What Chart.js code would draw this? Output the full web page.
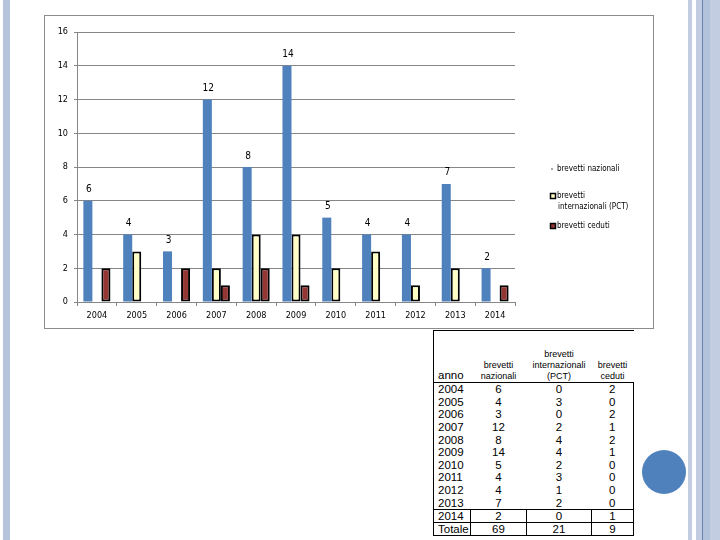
<!DOCTYPE html>
<html><head><meta charset="utf-8">
<script src="https://cdn.jsdelivr.net/npm/chart.js@4.4.1/dist/chart.umd.min.js"></script>
<style>
html,body{margin:0;padding:0;background:#fff;width:720px;height:540px;overflow:hidden;position:relative;font-family:"Liberation Sans",Arial,sans-serif;}
.abs{position:absolute;}
#frame{left:44px;top:15px;width:610px;height:314px;border:1px solid #8c8c8c;box-sizing:border-box;}
#c{position:absolute;left:44px;top:16px;}
#tbl{position:absolute;left:433px;top:330px;border-collapse:collapse;color:#000;table-layout:fixed;}
#tbl td{padding:0;height:12.6px;line-height:12px;text-align:center;font-size:11.5px;white-space:nowrap;}
#tbl tr.head td{height:51px;vertical-align:bottom;font-size:9px;line-height:11px;border-top:1px solid #000;border-bottom:1px solid #000;}
#tbl tr.head td.anno{font-size:11.5px;text-align:left;padding-left:4px;line-height:13px;border-left:1px solid #000;}
#tbl td.first{text-align:left;padding-left:4px;border-left:1px solid #000;}
#tbl td.last{border-right:1px solid #000;}
#tbl tr.grid td{border:1px solid #000;height:11.6px;}
</style></head>
<body>
<div class="abs" style="left:3px;top:0;width:7px;height:540px;background:#b7c5dc;"></div>
<div class="abs" style="left:688px;top:0;width:4px;height:540px;background:#c2cde2;"></div>
<div class="abs" style="left:696px;top:0;width:6px;height:540px;background:#c2cde2;"></div>
<div class="abs" style="left:702px;top:0;width:1px;height:540px;background:#6585b4;"></div>
<div class="abs" style="left:703px;top:0;width:7px;height:540px;background:#b3c2db;"></div>
<div class="abs" style="left:710px;top:0;width:10px;height:540px;background:#c2cde2;"></div>
<div class="abs" style="left:642px;top:450px;width:44px;height:44px;border-radius:50%;background:#4f81bd;"></div>
<div id="frame" class="abs"></div>
<canvas id="c" width="609" height="313"></canvas>
<table id="tbl">
<colgroup><col style="width:37px"><col style="width:56px"><col style="width:65px"><col style="width:42px"></colgroup>
<tbody id="tb"></tbody>
</table>
<script>
const years = ['2004','2005','2006','2007','2008','2009','2010','2011','2012','2013','2014'];
const nazionali = [6,4,3,12,8,14,5,4,4,7,2];
const internazionali = [0,3,0,2,4,4,2,3,1,2,0];
const ceduti = [2,0,2,1,2,1,0,0,0,0,1];
const totals = [69,21,9];
const seriesNames = ['brevetti nazionali','brevetti internazionali (PCT)','brevetti ceduti'];
const legendLines = [['brevetti nazionali'],['brevetti','internazionali (PCT)'],['brevetti ceduti']];
const headerLines = [['anno'],['brevetti','nazionali'],['brevetti','internazionali','(PCT)'],['brevetti','ceduti']];
const yTicks = {min:0,max:16,step:2};

const colors = ['#4f81bd','#ffffc6','#943634'];

// table
const tb = document.getElementById('tb');
let html = '<tr class="head">' + headerLines.map((h,i)=>'<td class="'+(i===0?'anno':'')+'">'+h.join('<br>')+'</td>').join('') + '</tr>';
years.forEach((y,i)=>{
  const cls = (i===years.length-1) ? ' class="grid"' : '';
  html += '<tr'+cls+'><td class="first">'+y+'</td><td>'+nazionali[i]+'</td><td>'+internazionali[i]+'</td><td class="last">'+ceduti[i]+'</td></tr>';
});
html += '<tr class="grid"><td class="first">Totale</td><td>'+totals[0]+'</td><td>'+totals[1]+'</td><td class="last">'+totals[2]+'</td></tr>';
tb.innerHTML = html;

const labelPlugin = {
  id:'valLabels',
  afterDatasetsDraw(chart){
    const ctx = chart.ctx;
    const meta = chart.getDatasetMeta(0);
    ctx.save();
    ctx.font = '10px "DejaVu Sans Condensed","DejaVu Sans",sans-serif';
    ctx.fillStyle = '#000';
    ctx.textAlign = 'center';
    ctx.textBaseline = 'middle';
    meta.data.forEach((el,i)=>{
      ctx.fillText(String(nazionali[i]), el.x + 1, el.y - 11);
    });
    ctx.restore();
  }
};

const legendPlugin = {
  id:'legendRight',
  afterDraw(chart){
    const ctx = chart.ctx;
    ctx.save();
    ctx.font = '8px "Liberation Sans Narrow","DejaVu Sans Condensed",sans-serif';
    ctx.fillStyle = '#000';
    ctx.textBaseline = 'middle';
    ctx.textAlign = 'left';
    const tx = 513;
    ctx.fillStyle = '#a8a8a8';
    ctx.fillRect(507, 152, 2, 2);
    ctx.fillStyle = '#000';
    ctx.fillText(legendLines[0][0], tx, 153);
    ctx.fillStyle = colors[1];
    ctx.fillRect(506, 177, 6, 6);
    ctx.strokeStyle = '#000'; ctx.lineWidth = 1.5;
    ctx.strokeRect(506.5, 177.5, 5, 5);
    ctx.fillStyle = '#000';
    ctx.fillText(legendLines[1][0], tx, 180);
    ctx.fillText(legendLines[1][1], tx + 1, 191);
    ctx.fillStyle = colors[2];
    ctx.fillRect(506, 207, 6, 6);
    ctx.strokeRect(506.5, 207.5, 5, 5);
    ctx.fillStyle = '#000';
    ctx.fillText(legendLines[2][0], tx, 210);
    ctx.restore();
  }
};

new Chart(document.getElementById('c'), {
  type:'bar',
  data:{
    labels: years,
    datasets:[
      {label:seriesNames[0], data:nazionali, backgroundColor:colors[0], borderWidth:0},
      {label:seriesNames[1], data:internazionali, backgroundColor:colors[1], borderColor:'#000', borderWidth:2, borderSkipped:false},
      {label:seriesNames[2], data:ceduti, backgroundColor:colors[2], borderColor:'#000', borderWidth:2, borderSkipped:false}
    ]
  },
  options:{
    responsive:false,
    animation:false,
    devicePixelRatio:1,
    datasets:{bar:{categoryPercentage:0.68, barPercentage:1.0}},
    layout:{padding:{left:0,top:16,right:138,bottom:0}},
    plugins:{legend:{display:false}, tooltip:{enabled:false}},
    scales:{
      x:{
        afterFit(s){ s.height = 27; },
        grid:{offset:true, drawOnChartArea:false, drawTicks:true, tickLength:4, color:'#868686'},
        border:{display:true, color:'#868686'},
        ticks:{color:'#000', padding:4, font:{family:'"DejaVu Sans Condensed","DejaVu Sans",sans-serif', size:9}}
      },
      y:{
        min:yTicks.min, max:yTicks.max,
        afterFit(s){ s.width = 33; },
        grid:{color:'#868686', tickLength:3},
        border:{display:true, color:'#868686'},
        ticks:{stepSize:yTicks.step, color:'#000', padding:6, font:{family:'"DejaVu Sans Condensed","DejaVu Sans",sans-serif', size:9}}
      }
    }
  },
  plugins:[labelPlugin, legendPlugin]
});
</script>
</body></html>
